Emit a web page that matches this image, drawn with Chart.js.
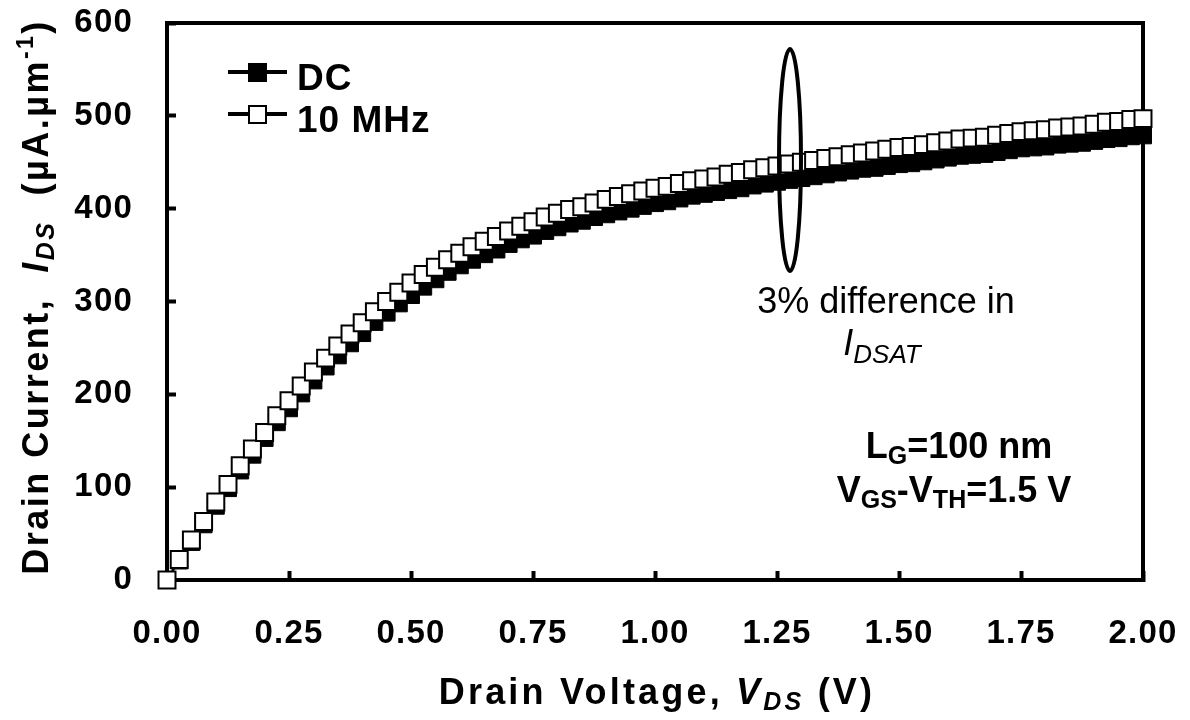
<!DOCTYPE html>
<html>
<head>
<meta charset="utf-8">
<script src="https://cdn.jsdelivr.net/npm/chart.js@4.4.1/dist/chart.umd.min.js"></script>
<style>
html, body { margin: 0; padding: 0; background: #fff; }
#grafico { display: block; }
</style>
</head>
<body>
<canvas id="grafico" width="1190" height="720"></canvas>
<script>
// tensao de dreno (V)
const vds = [
    0.000, 0.025, 0.050, 0.075, 0.100, 0.125, 0.150, 0.175, 0.200, 0.225,
    0.250, 0.275, 0.300, 0.325, 0.350, 0.375, 0.400, 0.425, 0.450, 0.475,
    0.500, 0.525, 0.550, 0.575, 0.600, 0.625, 0.650, 0.675, 0.700, 0.725,
    0.750, 0.775, 0.800, 0.825, 0.850, 0.875, 0.900, 0.925, 0.950, 0.975,
    1.000, 1.025, 1.050, 1.075, 1.100, 1.125, 1.150, 1.175, 1.200, 1.225,
    1.250, 1.275, 1.300, 1.325, 1.350, 1.375, 1.400, 1.425, 1.450, 1.475,
    1.500, 1.525, 1.550, 1.575, 1.600, 1.625, 1.650, 1.675, 1.700, 1.725,
    1.750, 1.775, 1.800, 1.825, 1.850, 1.875, 1.900, 1.925, 1.950, 1.975,
    2.000
];

// corrente de dreno DC (uA/um)
const idsDC = [
      0,  21,  41,  60,  80,  99, 118, 135, 153, 170,
    185, 201, 215, 230, 242, 255, 266, 278, 288, 298,
    307, 316, 324, 332, 339, 345, 351, 356, 362, 367,
    371, 376, 380, 384, 387, 391, 394, 397, 400, 403,
    406, 408, 411, 414, 416, 418, 420, 422, 425, 427,
    429, 431, 433, 435, 437, 439, 441, 443, 444, 446,
    448, 449, 451, 453, 455, 457, 458, 459, 461, 463,
    465, 466, 467, 469, 470, 471, 473, 475, 476, 478,
    479
];

// corrente de dreno 10 MHz (uA/um)
const ids10MHz = [
      0,  22,  43,  63,  84, 103, 123, 141, 159, 177,
    193, 209, 224, 239, 252, 265, 277, 289, 300, 310,
    320, 329, 337, 345, 352, 359, 365, 370, 376, 381,
    386, 391, 395, 399, 402, 406, 410, 413, 416, 419,
    422, 424, 427, 430, 432, 434, 437, 439, 442, 444,
    446, 448, 450, 452, 454, 456, 458, 460, 462, 464,
    466, 467, 469, 471, 473, 475, 476, 477, 479, 481,
    483, 484, 485, 487, 488, 489, 491, 493, 494, 496,
    497
];

const xTicks = [0, 0.25, 0.5, 0.75, 1.0, 1.25, 1.5, 1.75, 2.0];
const yTicks = [0, 100, 200, 300, 400, 500, 600];

const FONTE = "'Liberation Sans', Arial, sans-serif";

function fonte(p) {
    return `${p.italic ? 'italic ' : ''}${p.bold ? 'bold ' : ''}${p.size}px ${FONTE}`;
}

// escreve texto com partes de tamanhos/estilos diferentes (subscritos etc.)
function textoRico(ctx, partes, x, y, espaco) {
    ctx.letterSpacing = (espaco || 0) + 'px';
    let total = 0;
    partes.forEach(p => {
        ctx.font = fonte(p);
        p.w = ctx.measureText(p.t).width;
        total += p.w;
    });
    let cx = x - total / 2;
    partes.forEach(p => {
        ctx.font = fonte(p);
        ctx.fillText(p.t, cx, y + (p.dy || 0));
        cx += p.w;
    });
}

// zera o recuo automatico das escalas, a area do grafico fica fixa
function semRecuo(s) {
    s.paddingTop = 0;
    s.paddingBottom = 0;
    s.paddingLeft = 0;
    s.paddingRight = 0;
}

const pluginMoldura = {
    id: 'moldura',
    beforeDraw(chart) {
        chart.ctx.letterSpacing = '1.2px';
    },
    beforeDatasetsDraw(chart) {
        const { ctx, chartArea: a } = chart;
        ctx.save();
        ctx.strokeStyle = '#000';
        ctx.lineWidth = 4;
        ctx.lineCap = 'square';
        ctx.beginPath();
        ctx.moveTo(a.left, a.top);
        ctx.lineTo(a.right, a.top);
        ctx.lineTo(a.right, a.bottom);
        ctx.stroke();
        ctx.restore();
    }
};

const pluginTextos = {
    id: 'textos',
    afterDraw(chart) {
        const ctx = chart.ctx;
        ctx.save();
        ctx.fillStyle = '#000';
        ctx.strokeStyle = '#000';
        ctx.textAlign = 'left';
        ctx.textBaseline = 'alphabetic';

        // titulo eixo x
        textoRico(ctx, [
            { t: 'Drain Voltage, ', size: 36, bold: true },
            { t: 'V', size: 36, bold: true, italic: true },
            { t: 'DS', size: 25, bold: true, italic: true, dy: 6 },
            { t: ' (V)', size: 36, bold: true }
        ], 657, 704, 3.2);

        // titulo eixo y
        ctx.save();
        ctx.translate(48, 297);
        ctx.rotate(-Math.PI / 2);
        textoRico(ctx, [
            { t: 'Drain Current,  ', size: 36, bold: true },
            { t: 'I', size: 36, bold: true, italic: true },
            { t: 'DS', size: 25, bold: true, italic: true, dy: 6 },
            { t: '  (\u00b5A.\u00b5m', size: 36, bold: true },
            { t: '-1', size: 23, bold: true, dy: -15 },
            { t: ')', size: 36, bold: true }
        ], 0, 0, 2.5);
        ctx.restore();

        // legenda
        const legenda = [
            { nome: 'DC', y: 72, cheio: true },
            { nome: '10 MHz', y: 114, cheio: false }
        ];
        legenda.forEach(l => {
            ctx.lineWidth = 4;
            ctx.beginPath();
            ctx.moveTo(228, l.y);
            ctx.lineTo(287, l.y);
            ctx.stroke();
            ctx.fillStyle = l.cheio ? '#000' : '#fff';
            ctx.fillRect(249, l.y - 8, 17, 17);
            ctx.lineWidth = 2;
            ctx.strokeRect(249, l.y - 8, 17, 17);
            ctx.fillStyle = '#000';
            ctx.letterSpacing = '1px';
            ctx.font = `bold 37px ${FONTE}`;
            ctx.fillText(l.nome, 297, l.y + 18);
        });

        // elipse de destaque
        ctx.lineWidth = 4;
        ctx.beginPath();
        ctx.ellipse(790, 160, 11, 111, 0, 0, Math.PI * 2);
        ctx.stroke();

        textoRico(ctx, [{ t: '3% difference in', size: 36 }], 886, 313, 0);
        textoRico(ctx, [
            { t: 'I', size: 36, italic: true },
            { t: 'DSAT', size: 26, italic: true, dy: 8 }
        ], 882, 355, 0);

        textoRico(ctx, [
            { t: 'L', size: 36, bold: true },
            { t: 'G', size: 25, bold: true, dy: 6 },
            { t: '=100 nm', size: 36, bold: true }
        ], 959, 458, 0);
        textoRico(ctx, [
            { t: 'V', size: 36, bold: true },
            { t: 'GS', size: 25, bold: true, dy: 6 },
            { t: '-V', size: 36, bold: true },
            { t: 'TH', size: 25, bold: true, dy: 6 },
            { t: '=1.5 V', size: 36, bold: true }
        ], 954, 502, 0);

        ctx.restore();
    }
};

const ctx = document.getElementById('grafico');

new Chart(ctx, {
    type: 'line',
    data: {
        datasets: [
            {
                label: '10 MHz',
                data: vds.map((v, i) => ({ x: v, y: ids10MHz[i] })),
                borderColor: '#000',
                borderWidth: 2,
                pointStyle: 'rect',
                pointRadius: 12,
                pointBackgroundColor: '#fff',
                pointBorderColor: '#000',
                pointBorderWidth: 2,
                clip: false,
                order: 0
            },
            {
                label: 'DC',
                data: vds.map((v, i) => ({ x: v, y: idsDC[i] })),
                borderColor: '#000',
                borderWidth: 2,
                pointStyle: 'rect',
                pointRadius: 12,
                pointBackgroundColor: '#000',
                pointBorderColor: '#000',
                pointBorderWidth: 1,
                clip: false,
                order: 1
            }
        ]
    },
    options: {
        responsive: false,
        animation: false,
        devicePixelRatio: 1,
        events: [],
        layout: { padding: { left: 0, top: 23, right: 47, bottom: 0 } },
        plugins: {
            legend: { display: false },
            tooltip: { enabled: false }
        },
        scales: {
            x: {
                type: 'linear',
                min: 0,
                max: 2,
                afterBuildTicks: s => { s.ticks = xTicks.map(v => ({ value: v })); },
                afterFit: s => { s.height = 140; semRecuo(s); },
                border: { display: true, color: '#000', width: 4 },
                grid: { drawOnChartArea: false, drawTicks: true, tickLength: -9, tickWidth: 4, tickColor: '#000' },
                ticks: {
                    color: '#000',
                    padding: 43,
                    maxRotation: 0,
                    autoSkip: false,
                    font: { family: FONTE, size: 33, weight: 'bold' },
                    callback: v => Number(v).toFixed(2)
                }
            },
            y: {
                min: 0,
                max: 600,
                afterBuildTicks: s => { s.ticks = yTicks.map(v => ({ value: v })); },
                afterFit: s => { s.width = 167; semRecuo(s); },
                border: { display: true, color: '#000', width: 4 },
                grid: { drawOnChartArea: false, drawTicks: true, tickLength: -9, tickWidth: 4, tickColor: '#000' },
                ticks: {
                    color: '#000',
                    padding: 43,
                    autoSkip: false,
                    font: { family: FONTE, size: 33, weight: 'bold' },
                    callback: v => String(v)
                }
            }
        }
    },
    plugins: [pluginMoldura, pluginTextos]
});
</script>
</body>
</html>
